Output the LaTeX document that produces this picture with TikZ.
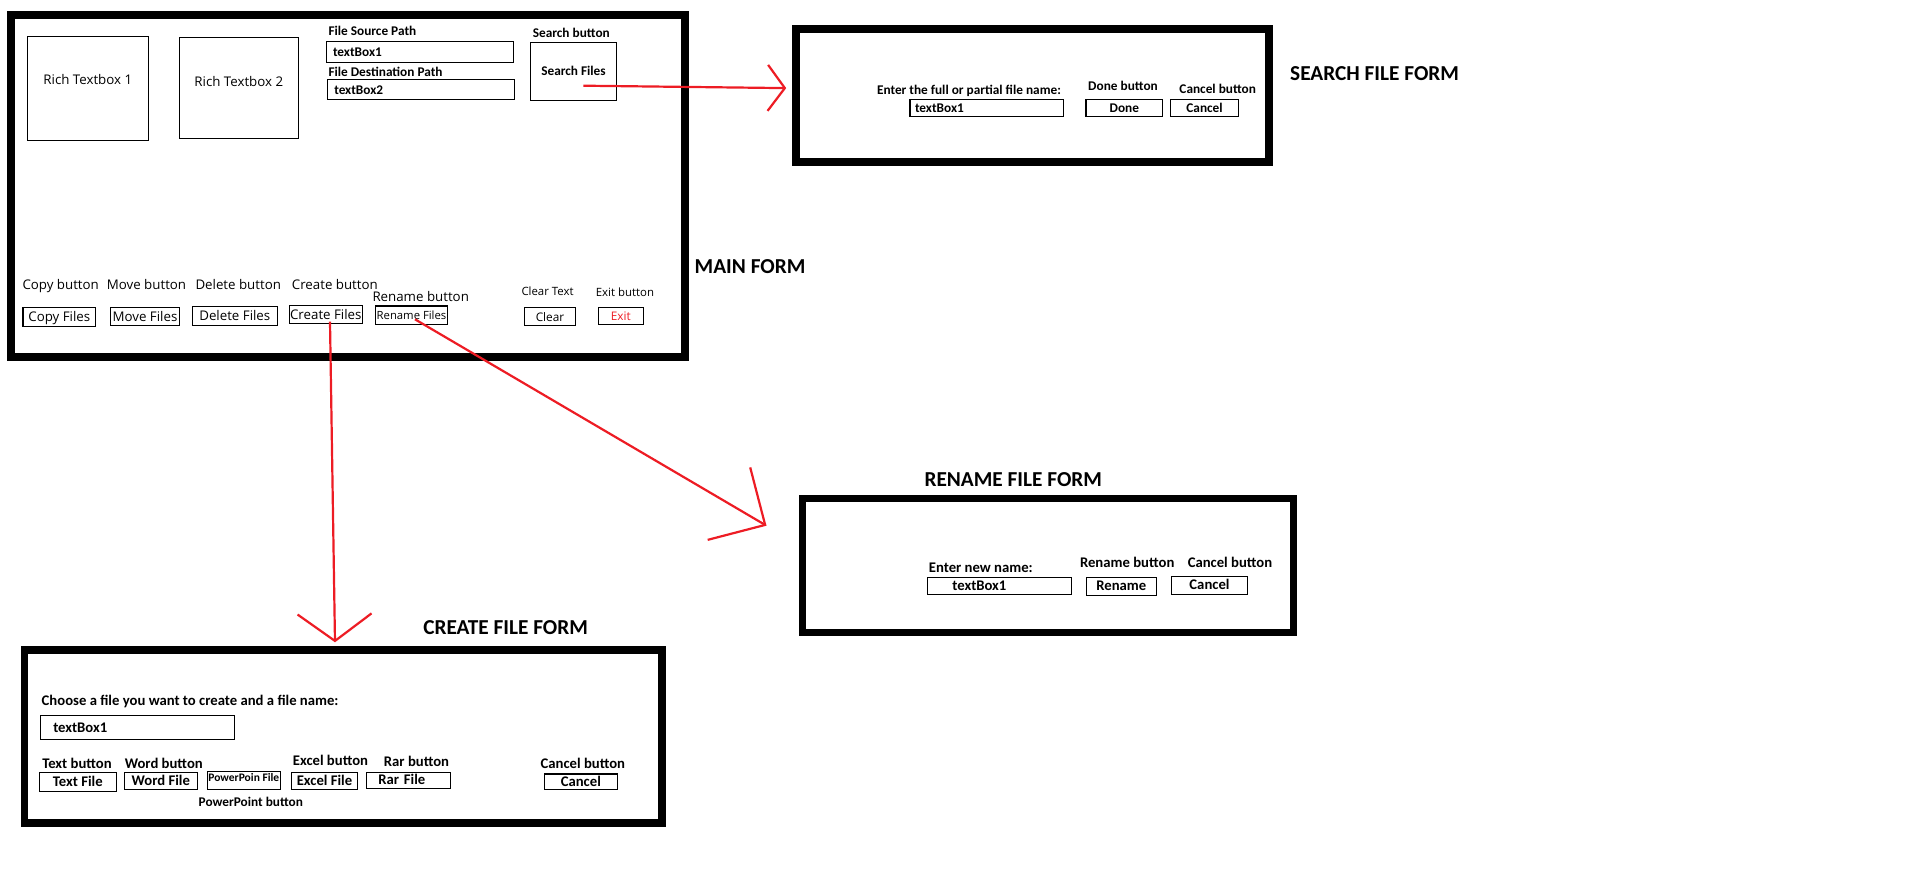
\documentclass[tikz,border=0pt]{standalone}
\usepackage{fontspec}
\setmainfont{Open Sans}
\newfontfamily\calfont{Carlito}
\usepackage{tikz}
\usetikzlibrary{arrows.meta,positioning}
\definecolor{pred}{HTML}{ED1C24}
\newcommand\setfs[1]{\fontsize{#1}{#1}\selectfont}

\begin{document}
\begin{tikzpicture}[
 x=1pt, y=-1pt,
 frm/.style={draw,line width=7.6pt,inner sep=0pt},
 box/.style={draw,line width=1.2pt,inner sep=0pt,text depth=0pt},
 obtn/.style={box,font=\setfs{13.3},text height=9.5pt},
 cbtn/.style={box,font=\calfont\bfseries\setfs{#1},text height=9pt},
 cbtn/.default=13.3,
 tbox/.style={cbtn=#1,align=left},
 tbox/.default=13.3,
 olbl/.style={inner sep=0pt,font=\setfs{#1}},
 olbl/.default=13.3,
 clbl/.style={inner sep=0pt,font=\calfont\bfseries\setfs{#1}},
 clbl/.default=13.3,
 head/.style={inner sep=0pt,font=\calfont\bfseries\setfs{21.3}},
 arr/.style 2 args={draw=pred,line width=2.2pt,-{Straight Barb[length=#1,width=#2]}}
]
\useasboundingbox (0,0) rectangle (1914,876);

% main form
\node[frm,minimum width=673.6pt,minimum height=342pt] (mainfrm) at (348,186) {};
\node[head,anchor=base west] (mainhead) at (694.5,273.5) {MAIN FORM};
\node[obtn,minimum width=121pt,minimum height=104pt,text depth=18pt] (rtb1) at (87.8,88.3) {Rich Textbox 1};
\node[obtn,minimum width=119pt,minimum height=101pt,text depth=13pt] (rtb2) at (238.8,87.8) {Rich Textbox 2};
\node[clbl,anchor=base west] (srclbl) at (328.3,35.7) {File Source Path};
\node[tbox,inner xsep=6.7pt,text width=173.6pt,minimum height=20.7pt] (srcbox) at (419.8,52) {textBox1};
\node[clbl,anchor=base west] (dstlbl) at (328.3,76.7) {File Destination Path};
\node[tbox,inner xsep=7pt,text width=173pt,minimum height=19.7pt] (dstbox) at (420.8,89.5) {textBox2};
\node[clbl,anchor=base] (srchlbl) at (571.3,37.7) {Search button};
\node[cbtn,minimum width=86.3pt,minimum height=58pt] (srchb) at (573.5,71.3) {Search Files};

\node[olbl,anchor=base west] (copylbl) at (22.3,289) {Copy button};
\node[olbl,anchor=base west] (movelbl) at (106.7,289) {Move button};
\node[olbl,anchor=base west] (dellbl) at (195.3,289) {Delete button};
\node[olbl,anchor=base west] (crtlbl) at (291.7,289) {Create button};
\node[olbl,anchor=base west] (renlbl) at (372.3,301.7) {Rename button};
\node[olbl=11.4,anchor=base west] (clrlbl) at (521.3,295.3) {Clear Text};
\node[olbl=11.4,anchor=base west] (exitlbl) at (595.7,296) {Exit button};
\node[obtn,minimum width=72.7pt,minimum height=19pt] (copyb) at (59.3,316.8) {Copy Files};
\node[obtn,minimum width=69.3pt,minimum height=18.3pt] (moveb) at (145,316.5) {Move Files};
\node[obtn,minimum width=85pt,minimum height=19pt] (delb) at (234.8,315.8) {Delete Files};
\node[obtn,minimum width=73pt,minimum height=18pt] (crtb) at (325.8,314.3) {Create Files};
\node[obtn,font=\setfs{11.3},minimum width=71.6pt,minimum height=18.3pt] (renb) at (411.5,315.2) {Rename Files};
\node[obtn,font=\setfs{11.8},minimum width=51.4pt,minimum height=18pt] (clrb) at (550,316.3) {Clear};
\node[obtn,font=\setfs{11.8},text=pred,minimum width=45pt,minimum height=17pt] (exitb) at (620.8,315.8) {Exit};

% search file form
\node[frm,minimum width=472.6pt,minimum height=133pt] (srchfrm) at (1032.5,95.3) {};
\node[head,anchor=base west] (srchhead) at (1290,80) {SEARCH FILE FORM};
\node[clbl,anchor=base] (findlbl) at (969,94.3) {Enter the full or partial file name:};
\node[tbox,inner xsep=5pt,text width=143.5pt,minimum height=17pt] (findbox) at (986.75,107.8) {textBox1};
\node[clbl,anchor=base] (donelbl) at (1123,90.3) {Done button};
\node[cbtn,minimum width=76.6pt,minimum height=17pt] (doneb) at (1124.3,107.8) {Done};
\node[clbl,anchor=base] (scanlbl) at (1217.7,93.3) {Cancel button};
\node[cbtn,minimum width=67.9pt,minimum height=17pt] (scanb) at (1204.55,107.8) {Cancel};

% rename file form
\node[frm,minimum width=491pt,minimum height=134pt] (renfrm) at (1048,565.5) {};
\node[head,anchor=base] (renhead) at (1013.25,486.8) {RENAME FILE FORM};
\node[clbl=14.7,anchor=base west] (newlbl) at (928.7,572.3) {Enter new name:};
\node[tbox=14.7,inner xsep=25pt,text width=94.4pt,minimum height=17.4pt] (newbox) at (999.6,586) {textBox1};
\node[clbl=14.7,anchor=base] (rrenlbl) at (1127.2,567.7) {Rename button};
\node[cbtn=14.7,minimum width=70pt,minimum height=18pt] (rrenb) at (1121.3,586.3) {Rename};
\node[clbl=14.7,anchor=base] (rcanlbl) at (1230,567.7) {Cancel button};
\node[cbtn=14.7,minimum width=76pt,minimum height=18pt] (rcanb) at (1209.5,585.3) {Cancel};

% create file form
\node[frm,minimum width=637.7pt,minimum height=173pt] (crtfrm) at (343.15,736.5) {};
\node[head,anchor=base] (crthead) at (505.6,634.8) {CREATE FILE FORM};
\node[clbl=14.7,anchor=base west] (chooselbl) at (41.5,705) {Choose a file you want to create and a file name:};
\node[tbox=14.7,inner xsep=13pt,text width=168pt,minimum height=23.6pt] (namebox) at (137.3,727.5) {textBox1};
\node[clbl=14.7,anchor=base] (txtlbl) at (77,768.2) {Text button};
\node[cbtn=14.7,minimum width=77pt,minimum height=19pt] (txtb) at (77.8,781.8) {Text File};
\node[clbl=14.7,anchor=base] (wordlbl) at (163.8,768.2) {Word button};
\node[cbtn=14.7,minimum width=73pt,minimum height=17pt] (wordb) at (160.8,780.8) {Word File};
\node[cbtn=11.5,minimum width=73pt,minimum height=18pt,text depth=7.2pt] (pptb) at (243.8,780.3) {PowerPoin File};
\node[clbl,anchor=base] (pptlbl) at (250.8,806.7) {PowerPoint button};
\node[clbl=14.7,anchor=base] (xlslbl) at (330.5,765.5) {Excel button};
\node[cbtn=14.7,minimum width=65.6pt,minimum height=17pt] (xlsb) at (324.5,780.8) {Excel File};
\node[clbl=14.7,anchor=base] (rarlbl) at (416.5,766) {Rar button};
\node[tbox=14.7,inner xsep=12pt,text width=60pt,minimum height=16pt] (rarb) at (408.3,780.3) {Rar File};
\node[clbl=14.7,anchor=base] (ccanlbl) at (582.85,768.7) {Cancel button};
\node[cbtn=14.7,minimum width=73.3pt,minimum height=15.3pt] (ccanb) at (580.85,781.65) {Cancel};

% connectors
\draw[arr={17pt}{46pt}] ([xshift=9.8pt,yshift=-14.4pt]srchb.center) -- ([xshift=-6.2pt,yshift=7.2pt]srchfrm.west);
\draw[arr={27pt}{74pt}] ([xshift=4.2pt,yshift=-7.4pt]crtb.center) -- ([xshift=-8.15pt,yshift=3.9pt]crtfrm.north);
\draw[arr={42pt}{84pt}] ([xshift=3.5pt,yshift=-4.1pt]renb.center) -- ([xshift=-32.2pt,yshift=39.8pt]renfrm.west);
\end{tikzpicture}
\end{document}
